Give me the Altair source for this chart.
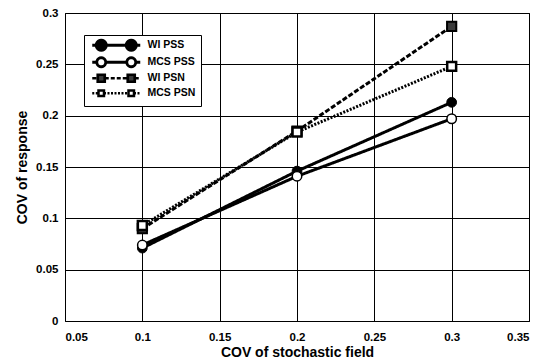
import math
import altair as alt
import pandas as pd

# ---- data ----
cov_field = [0.1, 0.2, 0.3]
series_names = ["WI PSS", "MCS PSS", "WI PSN", "MCS PSN"]
wi_pss = [0.071, 0.146, 0.213]
mcs_pss = [0.074, 0.141, 0.197]
wi_psn = [0.090, 0.185, 0.287]
mcs_psn = [0.093, 0.184, 0.248]

x_ticks = [0.05, 0.1, 0.15, 0.2, 0.25, 0.3, 0.35]
y_ticks = [0, 0.05, 0.1, 0.15, 0.2, 0.25, 0.3]

values = {"WI PSS": wi_pss, "MCS PSS": mcs_pss, "WI PSN": wi_psn, "MCS PSN": mcs_psn}
rows = []
for s in series_names:
    for xv, yv in zip(cov_field, values[s]):
        rows.append({"series": s, "x": xv, "y": yv})
df = pd.DataFrame(rows)

# ---- styles ----
FONT = "Liberation Sans"
dash_range = [[1, 0], [1, 0], [5, 2], [2, 1.5]]
line_width_range = [3, 3, 1.2, 1.0]
shape_range = ["circle", "circle", "square", "square"]
fill_range = ["black", "white", "#3a3a3a", "white"]
size_range = [95, 80, 50, 26]
pt_stroke_range = [1, 2.5, 1, 1]

# legend symbols drawn as custom paths; 1 path unit = sqrt(LEG_SIZE)/2 px
LEG_SIZE = 36
U = 5 / (math.sqrt(LEG_SIZE) / 2)  # converts a 5px-unit design into path units


def segs(a, b, dash=None, gap=None):
    a, b = a * U, b * U
    if dash is None:
        return f"M{a:.2f},0H{b:.2f}"
    dash, gap = dash * U, gap * U
    out = []
    p = a
    while p < b:
        q = min(p + dash, b)
        out.append(f"M{p:.2f},0H{q:.2f}")
        p = q + gap
    return "".join(out)


def circ(cx, r, n=20):
    cx, r = cx * U, r * U
    pts = [(cx + r * math.cos(2 * math.pi * k / n), r * math.sin(2 * math.pi * k / n))
           for k in range(n)]
    return "M" + "L".join(f"{px:.3f},{py:.3f}" for px, py in pts) + "Z"


def sq(cx, h):
    cx, h = cx * U, h * U
    return f"M{cx - h:.2f},{-h:.2f}h{2 * h:.2f}v{2 * h:.2f}h{-2 * h:.2f}Z"


L, M = 4.8, 3.0
legend_paths = [
    segs(-L, -M - 1) + segs(-M + 1, M - 1) + segs(M + 1, L) + circ(-M, 1) + circ(M, 1),
    segs(-L, -M - 0.9) + segs(-M + 0.9, M - 0.9) + segs(M + 0.9, L) + circ(-M, 0.9) + circ(M, 0.9),
    segs(-L, -M - 0.7, 0.8, 0.4) + segs(-M + 0.7, M - 0.7, 0.8, 0.4) + segs(M + 0.7, L, 0.8, 0.4)
    + sq(-M, 0.7) + sq(M, 0.7),
    segs(-L, -M - 0.55, 0.4, 0.3) + segs(-M + 0.55, M - 0.55, 0.4, 0.3) + segs(M + 0.55, L, 0.4, 0.3)
    + sq(-M, 0.55) + sq(M, 0.55),
]
legend_width_range = [3, 2.5, 1.2, 1]

dom = series_names
xenc = alt.X("x:Q", title="COV of stochastic field",
             scale=alt.Scale(domain=[0.05, 0.35], nice=False),
             axis=alt.Axis(values=x_ticks, format=".2~f", labelPadding=10, titlePadding=3))
yenc = alt.Y("y:Q", title="COV of response",
             scale=alt.Scale(domain=[0, 0.3], nice=False),
             axis=alt.Axis(values=y_ticks, format=".2~f", labelPadding=7, titlePadding=6))

lines = alt.Chart(df).mark_line(color="black").encode(
    x=xenc, y=yenc,
    detail="series:N",
    strokeDash=alt.StrokeDash("series:N", scale=alt.Scale(domain=dom, range=dash_range), legend=None),
    strokeWidth=alt.StrokeWidth("series:N", scale=alt.Scale(domain=dom, range=line_width_range), legend=None),
)

points = alt.Chart(df).mark_point(stroke="black", opacity=1).encode(
    x=xenc, y=yenc,
    shape=alt.Shape("series:N", scale=alt.Scale(domain=dom, range=shape_range), legend=None),
    fill=alt.Fill("series:N", scale=alt.Scale(domain=dom, range=fill_range), legend=None),
    size=alt.Size("series:N", scale=alt.Scale(domain=dom, range=size_range), legend=None),
    strokeWidth=alt.StrokeWidth("series:N", scale=alt.Scale(domain=dom, range=pt_stroke_range), legend=None),
)

legend_layer = alt.Chart(df).mark_point(stroke="black", opacity=0, size=LEG_SIZE).encode(
    x=xenc, y=yenc,
    shape=alt.Shape("series:N", scale=alt.Scale(domain=dom, range=legend_paths),
                    legend=alt.Legend(title=None, orient="none", legendX=19, legendY=22,
                                      symbolOpacity=1, symbolSize=LEG_SIZE,
                                      symbolOffset=22, labelOffset=26,
                                      padding=5, rowPadding=-8, fillColor="white",
                                      strokeColor="black", labelFont=FONT,
                                      labelFontWeight="bold", labelFontSize=10.5,
                                      labelColor="black")),
    fill=alt.Fill("series:N", scale=alt.Scale(domain=dom, range=fill_range)),
    strokeWidth=alt.StrokeWidth("series:N", scale=alt.Scale(domain=dom, range=legend_width_range)),
)

chart = alt.layer(lines, points, legend_layer).resolve_scale(
    shape="independent", fill="independent", strokeWidth="independent",
    size="independent", strokeDash="independent",
).properties(
    width=464, height=308, autosize="none",
    padding={"left": 57, "top": 5, "right": 11, "bottom": 40},
).configure_view(
    stroke="black", strokeWidth=1
).configure_axis(
    labelFont=FONT, labelFontWeight="bold", labelFontSize=11.5, labelColor="black",
    titleFont=FONT, titleFontWeight="bold", titleFontSize=14, titleColor="black",
    grid=True, gridColor="black", gridWidth=1, ticks=False, domain=False,
)

chart.save("out.html", embed_options={"renderer": "svg", "actions": False})
